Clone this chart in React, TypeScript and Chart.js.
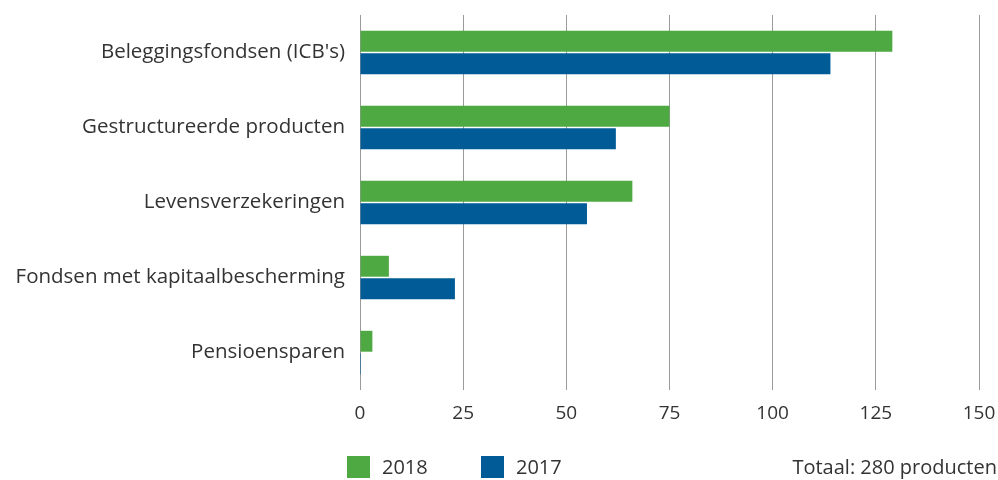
import React, { useEffect, useRef } from "react";
import { Chart, registerables } from "chart.js";

Chart.register(...registerables);

const categories = [
  "Beleggingsfondsen (ICB's)",
  "Gestructureerde producten",
  "Levensverzekeringen",
  "Fondsen met kapitaalbescherming",
  "Pensioensparen",
];
const values2018 = [129, 75, 66, 7, 3];
const values2017 = [114, 62, 55, 23, 0];
const seriesLabels = ["2018", "2017"];
const totalText = "Totaal: 280 producten";

const GREEN = "#4fa942";
const BLUE = "#005b96";
const FONT = "'Open Sans', 'Noto Sans', sans-serif";
const TEXT = "#333333";

export default function App() {
  const ref = useRef<HTMLCanvasElement | null>(null);
  useEffect(() => {
    if (!ref.current) return;
    const chart = new Chart(ref.current, {
      type: "bar",
      data: {
        labels: categories,
        datasets: [
          { label: seriesLabels[0], data: values2018, backgroundColor: GREEN, borderWidth: 0 },
          { label: seriesLabels[1], data: values2017, backgroundColor: BLUE, borderWidth: 0, minBarLength: 1 },
        ],
      },
      options: {
        indexAxis: "y",
        animation: false,
        responsive: false,
        maintainAspectRatio: false,
        layout: { padding: { top: 15, right: 19, left: 0, bottom: 0 } },
        datasets: { bar: { categoryPercentage: 0.6, barPercentage: 0.93 } },
        plugins: { legend: { display: false }, tooltip: { enabled: false } },
        scales: {
          x: {
            min: 0,
            max: 150,
            ticks: { stepSize: 25, color: TEXT, font: { family: FONT, size: 19 }, padding: 12 },
            grid: { color: "#9a9a9a", lineWidth: 1, drawTicks: false },
            border: { display: false },
            afterFit: (s: any) => {
              s.height = 90;
              s.paddingLeft = 0;
              s.paddingRight = 0;
            },
          },
          y: {
            ticks: { color: TEXT, font: { family: FONT, size: 20.5 }, padding: 15 },
            grid: { display: false, drawTicks: false },
            border: { display: false },
            afterFit: (s: any) => {
              s.width = 360;
              s.paddingTop = 0;
              s.paddingBottom = 0;
            },
          },
        },
      },
    });
    return () => chart.destroy();
  }, []);

  const legendText: React.CSSProperties = {
    position: "absolute",
    top: 456,
    height: 22,
    lineHeight: "22px",
    fontFamily: FONT,
    fontSize: 20,
    color: TEXT,
    whiteSpace: "nowrap",
  };

  return (
    <div style={{ position: "absolute", left: 0, top: 0, width: 998, height: 480, background: "#fff" }}>
      <canvas ref={ref} width={998} height={480} style={{ position: "absolute", left: 0, top: 0, width: 998, height: 480 }} />
      <div style={{ position: "absolute", left: 347, top: 456, width: 23, height: 22, background: GREEN }} />
      <div style={{ ...legendText, left: 382 }}>{seriesLabels[0]}</div>
      <div style={{ position: "absolute", left: 481, top: 456, width: 23, height: 22, background: BLUE }} />
      <div style={{ ...legendText, left: 516 }}>{seriesLabels[1]}</div>
      <div style={{ ...legendText, right: 1 }}>{totalText}</div>
    </div>
  );
}
